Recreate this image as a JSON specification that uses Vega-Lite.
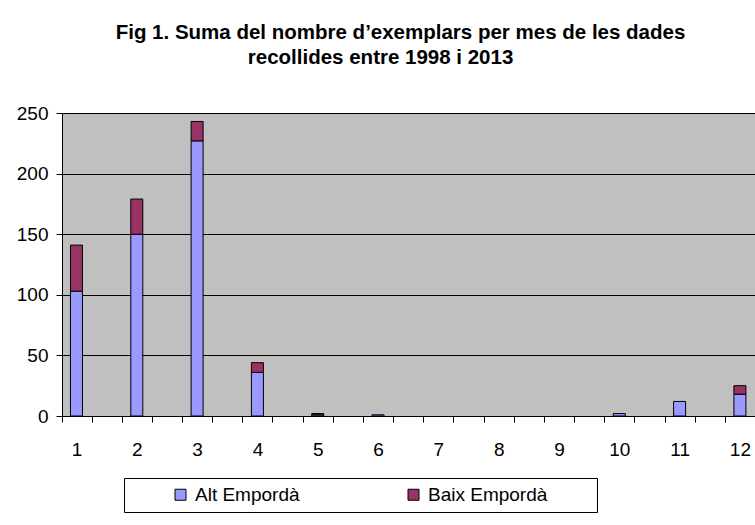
{
  "$schema": "https://vega.github.io/schema/vega-lite/v6.json",
  "width": 693,
  "height": 303,
  "autosize": {"type": "none"},
  "padding": {"left": 62, "top": 113, "right": 0, "bottom": 109},
  "background": "white",
  "title": {
    "text": ["Fig 1. Suma del nombre d’exemplars per mes de les dades", "recollides entre 1998 i 2013\u00a0\u00a0\u00a0\u00a0\u00a0\u00a0\u00a0\u200b"],
    "font": "Liberation Sans",
    "fontSize": 20.5,
    "fontWeight": "bold",
    "color": "black",
    "lineHeight": 25,
    "anchor": "middle",
    "frame": "group",
    "offset": 36,
    "dx": -8
  },
  "data": {
    "values": [
      {"month": 1, "region": "Alt Empordà", "count": 103},
      {"month": 1, "region": "Baix Empordà", "count": 38},
      {"month": 2, "region": "Alt Empordà", "count": 150},
      {"month": 2, "region": "Baix Empordà", "count": 29},
      {"month": 3, "region": "Alt Empordà", "count": 227},
      {"month": 3, "region": "Baix Empordà", "count": 16},
      {"month": 4, "region": "Alt Empordà", "count": 36},
      {"month": 4, "region": "Baix Empordà", "count": 8},
      {"month": 5, "region": "Alt Empordà", "count": 1},
      {"month": 5, "region": "Baix Empordà", "count": 1},
      {"month": 6, "region": "Alt Empordà", "count": 1},
      {"month": 10, "region": "Alt Empordà", "count": 2},
      {"month": 11, "region": "Alt Empordà", "count": 12},
      {"month": 12, "region": "Alt Empordà", "count": 18},
      {"month": 12, "region": "Baix Empordà", "count": 7}
    ]
  },
  "mark": {"type": "bar", "size": 12, "stroke": "black", "strokeWidth": 1},
  "encoding": {
    "x": {
      "field": "month",
      "type": "quantitative",
      "scale": {"domain": [0.76, 12.25], "nice": false, "zero": false, "padding": 0},
      "axis": {
        "title": null,
        "values": [0.76, 1, 1.25, 1.75, 2, 2.25, 2.75, 3, 3.25, 3.75, 4, 4.25, 4.75, 5, 5.25, 5.75, 6, 6.25, 6.75, 7, 7.25, 7.75, 8, 8.25, 8.75, 9, 9.25, 9.75, 10, 10.25, 10.75, 11, 11.25, 11.75, 12],
        "labelExpr": "datum.value % 1 == 0 ? format(datum.value, 'd') : ''",
        "tickOpacity": {"condition": {"test": "datum.value % 1 == 0", "value": 0}, "value": 1},
        "grid": false,
        "tickSize": 6,
        "tickColor": "black",
        "domainColor": "black",
        "labelFont": "Liberation Sans",
        "labelFontSize": 19,
        "labelColor": "black",
        "labelPadding": 18,
        "labelAngle": 0,
        "labelOverlap": false,
        "labelFlush": false
      }
    },
    "y": {
      "field": "count",
      "type": "quantitative",
      "stack": "zero",
      "scale": {"domain": [0, 250], "nice": false},
      "axis": {
        "title": null,
        "values": [0, 50, 100, 150, 200, 250],
        "grid": true,
        "gridColor": "black",
        "gridWidth": 1,
        "tickSize": 6,
        "tickColor": "black",
        "domainColor": "black",
        "labelFont": "Liberation Sans",
        "labelFontSize": 19,
        "labelColor": "black",
        "labelPadding": 8
      }
    },
    "order": {"field": "region", "type": "nominal", "sort": "ascending"},
    "color": {
      "field": "region",
      "type": "nominal",
      "scale": {"domain": ["Alt Empordà", "Baix Empordà"], "range": ["#9999FF", "#993366"]},
      "legend": {
        "orient": "none",
        "legendX": 62,
        "legendY": 365,
        "direction": "horizontal",
        "columns": 2,
        "title": "\u00a0",
        "titleOrient": "left",
        "titlePadding": 40,
        "titleFontSize": 19,
        "strokeColor": "black",
        "fillColor": "white",
        "padding": 7,
        "symbolType": "square",
        "symbolSize": 121,
        "symbolStrokeColor": "black",
        "symbolStrokeWidth": 1,
        "symbolOpacity": 1,
        "labelFont": "Liberation Sans",
        "labelFontSize": 19,
        "labelColor": "black",
        "labelOffset": 5,
        "columnPadding": 104,
        "labelLimit": 400,
        "labelExpr": "datum.label == 'Baix Empordà' ? datum.label + '\u00a0\u00a0\u00a0\u00a0\u00a0\u00a0\u00a0\u00a0\u200b' : datum.label"
      }
    }
  },
  "config": {
    "view": {"fill": "#C0C0C0", "stroke": "#808080"}
  }
}
